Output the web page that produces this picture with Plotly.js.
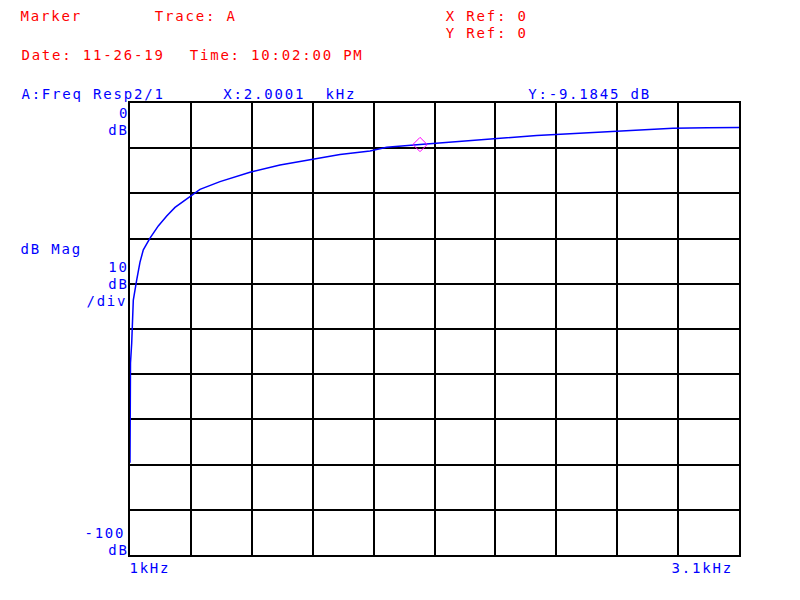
<!DOCTYPE html>
<html>
<head>
<meta charset="utf-8">
<script src="https://cdn.plot.ly/plotly-3.0.1.min.js"></script>
<style>
html,body{margin:0;padding:0;background:#fff}
#chart{width:800px;height:600px}
#chart .annotation-text{letter-spacing:1.8px}
</style>
</head>
<body>
<div id="chart"></div>
<script>
// Frequency (kHz) and magnitude (dB)
const freqKHz = [1.0000, 1.0000, 1.0017, 1.0059, 1.0079, 1.0114, 1.0230, 1.0345, 1.0459, 1.0631, 1.0690, 1.0976, 1.1266, 1.1552, 1.1897, 1.2128, 1.2414, 1.3103, 1.4138, 1.5172, 1.6207, 1.7241, 1.8276, 1.8850, 2.0000, 2.1480, 2.2645, 2.4024, 2.5170, 2.6655, 2.7690, 2.8720, 2.9897, 3.1000];
const magDb   = [-79.6, -70.0, -57.5, -53.1, -48.0, -43.6, -39.2, -35.2, -32.5, -30.3, -29.9, -27.2, -25.0, -23.1, -21.5, -20.4, -19.1, -17.4, -15.3, -13.7, -12.6, -11.4, -10.6, -9.8, -9.18, -8.4, -7.8, -7.2, -6.8, -6.3, -6.05, -5.6, -5.45, -5.4];
const markerX = [2.0001];
const markerY = [-9.1845];
const xRange = [1.0, 3.1];
const yRange = [-100, 0];
const xStartLabel = '1kHz';
const xEndLabel = '3.1kHz';

const L = 130, R = 739, T = 103, B = 555;
const W = 800, H = 600;
const CELL = 14 * 0.602 + 1.8;
function px(x){ return (x - L) / (R - L); }
function py(y){ return (B - y) / (B - T); }
const FONT = 'DejaVu Sans Mono';
const red = '#ff0000', blue = '#0000ff';
// x is the left edge (or right edge when anchor = 'right') of the text cells
function ann(text, x, y, color, anchor){
  const half = text.length * CELL / 2;
  const cx = anchor === 'right' ? x - half : x + half;
  return {text: text.replace(/ /g, '\u00a0'), x: px(cx), y: py(y), xref: 'paper', yref: 'paper',
    xanchor: 'center', yanchor: 'middle', showarrow: false,
    font: {family: FONT, size: 14, color: color}, borderpad: 0};
}

const annotations = [
  ann('Marker', 21, 16, red),
  ann('Trace: A', 155, 16, red),
  ann('X Ref: 0', 446, 16, red),
  ann('Y Ref: 0', 446, 32.5, red),
  ann('Date: 11-26-19', 21, 55, red),
  ann('Time: 10:02:00 PM', 190, 55, red),
  ann('A:Freq Resp2/1', 21, 94, blue),
  ann('X:2.0001  kHz', 224, 94, blue),
  ann('Y:-9.1845 dB', 528, 94, blue),
  ann('0', 129, 113, blue, 'right'),
  ann('dB', 129, 130, blue, 'right'),
  ann('dB Mag', 21, 249, blue),
  ann('10', 129, 266.5, blue, 'right'),
  ann('dB', 129, 284, blue, 'right'),
  ann('/div', 127, 300.5, blue, 'right'),
  ann('-100', 125, 532.5, blue, 'right'),
  ann('dB', 129, 549.5, blue, 'right'),
  ann(xStartLabel, 130, 568, blue),
  ann(xEndLabel, 733, 568, blue, 'right')
];

const data = [
  {x: freqKHz, y: magDb, type: 'scatter', mode: 'lines',
   line: {color: blue, width: 1.5}, hoverinfo: 'skip'},
  {x: markerX, y: markerY, type: 'scatter', mode: 'markers',
   marker: {symbol: 'diamond-open', size: 11, color: '#ff00ff', line: {width: 1, color: '#ff00ff'}}}
];

const layout = {
  width: W, height: H, showlegend: false,
  paper_bgcolor: '#fff', plot_bgcolor: '#fff',
  margin: {l: L, r: W - R, t: T, b: H - B, pad: 0},
  xaxis: {range: xRange, tick0: 1.0, dtick: 0.21, showgrid: true, gridcolor: '#000', gridwidth: 2,
          showline: true, linecolor: '#000', linewidth: 2, mirror: true, zeroline: false,
          showticklabels: false, ticks: ''},
  yaxis: {range: yRange, tick0: 0, dtick: 10, showgrid: true, gridcolor: '#000', gridwidth: 2,
          showline: true, linecolor: '#000', linewidth: 2, mirror: true, zeroline: false,
          showticklabels: false, ticks: ''},
  annotations: annotations
};

Plotly.newPlot('chart', data, layout, {displayModeBar: false, staticPlot: true});
</script>
</body>
</html>
